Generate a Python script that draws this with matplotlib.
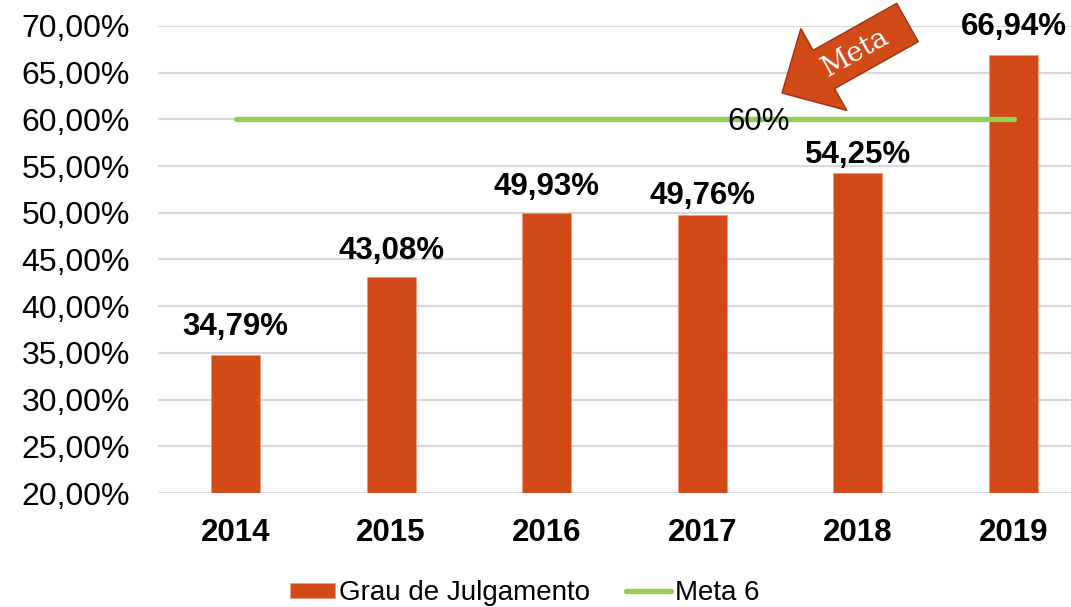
import matplotlib
matplotlib.use("Agg")
import matplotlib.pyplot as plt
from matplotlib.patches import FancyArrow

# chart data
years = ["2014", "2015", "2016", "2017", "2018", "2019"]
grau_julgamento = [34.79, 43.08, 49.93, 49.76, 54.25, 66.94]
meta_6 = [60, 60, 60, 60, 60, 60]
y_ticks = [20, 25, 30, 35, 40, 45, 50, 55, 60, 65, 70]

BAR_COLOR = "#D24A18"
LINE_COLOR = "#92D050"
GRID_COLOR = "#D9D9D9"

plt.rcParams["font.family"] = ["Liberation Sans", "DejaVu Sans"]


def pct(v, decimals=2):
  return f"{v:.{decimals}f}".replace(".", ",") + "%"


def main():
  fig = plt.figure(figsize=(10.71, 6.07), dpi=100)
  ax = fig.add_axes([0.1473, 0.1878, 0.8717, 0.7694])

  x = list(range(len(years)))
  bars = ax.bar(x, grau_julgamento, width=0.315, color=BAR_COLOR,
                edgecolor="#EE9A7A", linewidth=0.6, zorder=2,
                label="Grau de Julgamento")
  line, = ax.plot(x, meta_6, color=LINE_COLOR, linewidth=3.8,
                  solid_capstyle="round", zorder=3, label="Meta 6")

  # value labels above bars (pixel gap as seen in the original)
  label_gaps = [14, 13.5, 13.5, 8, 7.5, 14]
  for xi, v, gap in zip(x, grau_julgamento, label_gaps):
    ax.annotate(pct(v), (xi, v), xytext=(0, gap), textcoords="offset points",
                ha="center", va="baseline", fontsize=22.5, fontweight="bold",
                zorder=4)

  # label for the target line
  ax.text(3.36, 59.7, "60%", ha="center", va="center", fontsize=22.5,
          zorder=4)

  ax.set_xlim(-0.5, len(years) - 0.5)
  ax.set_ylim(20, 70)
  ax.set_yticks(y_ticks)
  ax.set_yticklabels([pct(t) for t in y_ticks], fontsize=23)
  ax.set_xticks(x)
  ax.set_xticklabels(years, fontsize=22.5, fontweight="bold")
  ax.tick_params(length=0)
  ax.tick_params(axis="x", pad=18)
  ax.tick_params(axis="y", pad=20)
  ax.yaxis.grid(True, color=GRID_COLOR, linewidth=1.5, zorder=0)
  ax.set_axisbelow(True)
  for side in ["top", "right", "left", "bottom"]:
    ax.spines[side].set_visible(False)

  fig.legend(handles=[bars, line], loc="lower center",
             bbox_to_anchor=(0.49, -0.04), ncol=2, frameon=False,
             fontsize=20, handlelength=1.6, handletextpad=0.15,
             columnspacing=1.3, handleheight=0.5)

  # "Meta" block arrow drawn in pixel space over the whole figure
  over = fig.add_axes([0, 0, 1, 1], zorder=5)
  over.set_xlim(0, 1071)
  over.set_ylim(607, 0)
  over.axis("off")
  arrow = FancyArrow(907.5, 22.5, -125.5, 70.5, width=44, head_width=94,
                     head_length=48, length_includes_head=True,
                     facecolor=BAR_COLOR, edgecolor="#9C3410", linewidth=1.0)
  over.add_patch(arrow)
  over.text(856, 53, "Meta", rotation=29.3, ha="center", va="center",
            color="white", fontsize=20, family="DejaVu Serif",
            rotation_mode="anchor")

  fig.savefig("out.png", dpi=100)


if __name__ == "__main__":
  main()
